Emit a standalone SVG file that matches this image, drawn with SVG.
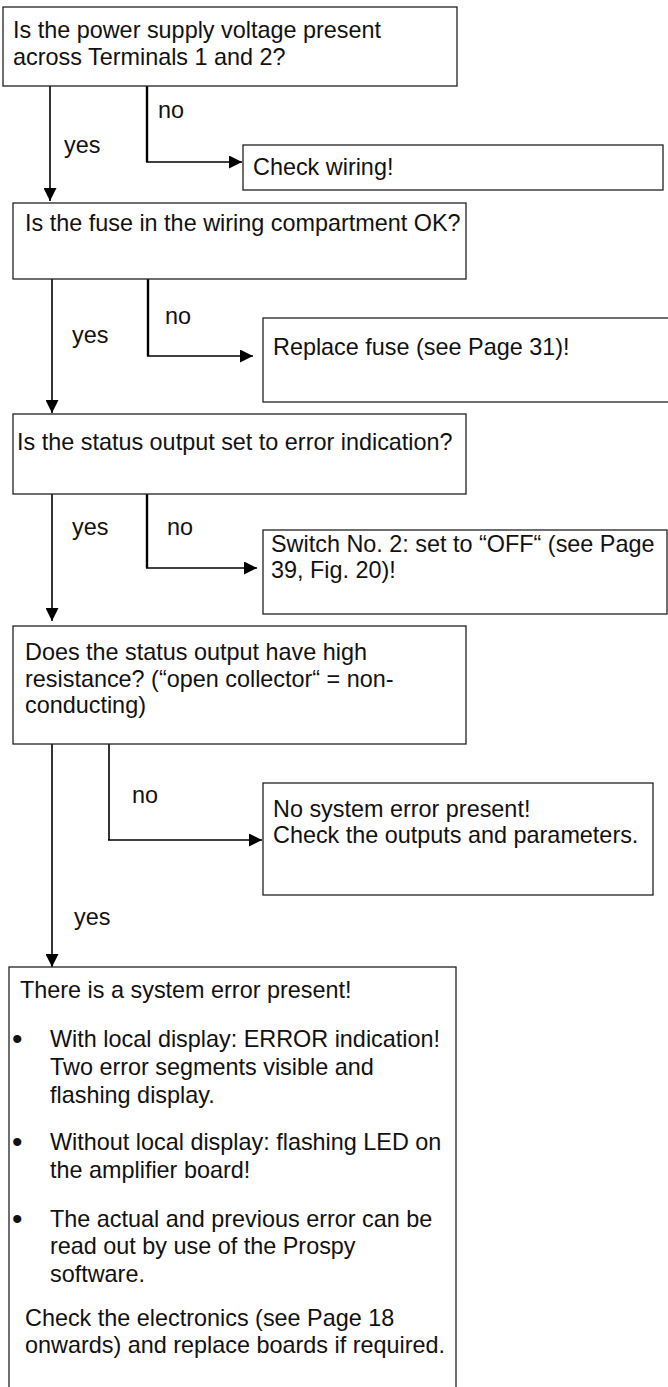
<svg xmlns="http://www.w3.org/2000/svg" width="668" height="1387" viewBox="0 0 668 1387">
<style>
.box{fill:#fff;stroke:#222;stroke-width:1.3}
.t{font-family:"Liberation Sans",Arial,sans-serif;font-size:23.4px;fill:#111}
.b{font-family:"Liberation Sans",Arial,sans-serif;font-size:30px;fill:#111}
.c{fill:none;stroke:#000;stroke-width:1.6}
.cn{fill:none;stroke:#000;stroke-width:2.4}
</style>
<defs>
<marker id="ah" markerUnits="userSpaceOnUse" markerWidth="13" markerHeight="13" refX="13" refY="6.5" orient="auto">
<path d="M0,0 L13,6.5 L0,13 z" fill="#000"/>
</marker>
</defs>
<rect width="668" height="1387" fill="#fff"/>
<g id="connectors">
<line class="c" x1="50" y1="86" x2="50" y2="201" marker-end="url(#ah)"/>
<line class="cn" x1="147" y1="86" x2="147" y2="162"/>
<line class="c" x1="146" y1="162" x2="242" y2="162" marker-end="url(#ah)"/>
<text class="t" x="64" y="153">yes</text>
<text class="t" x="158" y="118">no</text>

<line class="c" x1="52" y1="279" x2="52" y2="413" marker-end="url(#ah)"/>
<line class="cn" x1="148" y1="279" x2="148" y2="356"/>
<line class="c" x1="147" y1="356" x2="253" y2="356" marker-end="url(#ah)"/>
<text class="t" x="72" y="343">yes</text>
<text class="t" x="165" y="324">no</text>

<line class="c" x1="52" y1="494" x2="52" y2="621" marker-end="url(#ah)"/>
<line class="cn" x1="147" y1="494" x2="147" y2="568"/>
<line class="c" x1="146" y1="568" x2="257" y2="568" marker-end="url(#ah)"/>
<text class="t" x="72" y="535">yes</text>
<text class="t" x="167" y="535">no</text>

<line class="c" x1="52" y1="744" x2="52" y2="967" marker-end="url(#ah)"/>
<line class="c" x1="109" y1="744" x2="109" y2="840"/>
<line class="c" x1="108" y1="840" x2="262" y2="840" marker-end="url(#ah)"/>
<text class="t" x="74" y="925">yes</text>
<text class="t" x="132" y="803">no</text>
</g>
<g id="q1">
<rect class="box" x="3" y="7" width="454" height="79"/>
<text class="t" x="13" y="38">Is the power supply voltage present</text>
<text class="t" x="13" y="65">across Terminals 1 and 2?</text>
</g>
<g id="a1">
<rect class="box" x="243" y="145" width="420" height="45"/>
<text class="t" x="253" y="175">Check wiring!</text>
</g>
<g id="q2">
<rect class="box" x="13" y="203" width="453" height="76"/>
<text class="t" x="25" y="231">Is the fuse in the wiring compartment OK?</text>
</g>
<g id="a2">
<rect class="box" x="263" y="318" width="410" height="84"/>
<text class="t" x="273" y="355">Replace fuse (see Page 31)!</text>
</g>
<g id="q3">
<rect class="box" x="13" y="414" width="453" height="80"/>
<text class="t" x="17" y="450">Is the status output set to error indication?</text>
</g>
<g id="a3">
<rect class="box" x="263" y="530" width="404" height="84"/>
<text class="t" x="271" y="552">Switch No. 2: set to “OFF“ (see Page</text>
<text class="t" x="271" y="578">39, Fig. 20)!</text>
</g>
<g id="q4">
<rect class="box" x="13" y="626" width="453" height="118"/>
<text class="t" x="25" y="660">Does the status output have high</text>
<text class="t" x="25" y="687">resistance? (“open collector“ = non-</text>
<text class="t" x="25" y="713">conducting)</text>
</g>
<g id="a4">
<rect class="box" x="263" y="783" width="390" height="112"/>
<text class="t" x="273" y="817">No system error present!</text>
<text class="t" x="273" y="843">Check the outputs and parameters.</text>
</g>
<g id="r5">
<rect class="box" x="9" y="967" width="447" height="440"/>
<text class="t" x="20" y="998">There is a system error present!</text>
<text class="b" x="12" y="1049">•</text>
<text class="t" x="50" y="1047">With local display: ERROR indication!</text>
<text class="t" x="50" y="1075">Two error segments visible and</text>
<text class="t" x="50" y="1103">flashing display.</text>
<text class="b" x="12" y="1152">•</text>
<text class="t" x="50" y="1150">Without local display: flashing LED on</text>
<text class="t" x="50" y="1178">the amplifier board!</text>
<text class="b" x="12" y="1229">•</text>
<text class="t" x="50" y="1227">The actual and previous error can be</text>
<text class="t" x="50" y="1254">read out by use of the Prospy</text>
<text class="t" x="50" y="1282">software.</text>
<text class="t" x="25" y="1326">Check the electronics (see Page 18</text>
<text class="t" x="25" y="1353">onwards) and replace boards if required.</text>
</g>
</svg>
